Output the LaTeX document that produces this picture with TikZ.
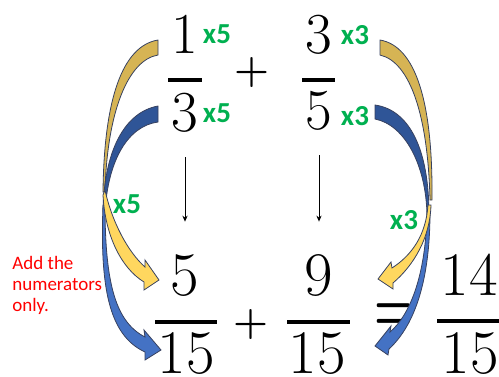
\documentclass[tikz,border=0pt]{standalone}
\usepackage{fontspec}
\usetikzlibrary{arrows.meta}
\newfontfamily\calibri{Carlito}
\definecolor{factorgreen}{RGB}{0,176,80}
\definecolor{notered}{RGB}{255,0,0}
\definecolor{goldback}{RGB}{214,180,84}
\definecolor{goldfront}{RGB}{255,215,95}
\definecolor{blueback}{RGB}{47,85,151}
\definecolor{bluefront}{RGB}{68,114,196}
\definecolor{rim}{RGB}{55,65,95}

\tikzset{
  topnum/.style={font=\fontsize{29}{29}\selectfont, inner sep=0pt, anchor=base},
  botnum/.style={font=\fontsize{31}{31}\selectfont, inner sep=0pt, anchor=base},
  oper/.style={font=\bfseries\fontsize{20}{20}\selectfont, inner sep=0pt},
  factor/.style={font=\calibri\bfseries\fontsize{14.5}{14.5}\selectfont, text=factorgreen, inner sep=0pt},
  note/.style={font=\calibri\fontsize{9.5}{10.5}\selectfont, text=notered, align=left, inner sep=0pt, anchor=north west},
  fracbar/.style={line width=2pt},
  carry/.style={-{Stealth[length=3pt,width=2.6pt]}, line width=0.5pt, shorten <=12.5pt, shorten >=16pt},
  goldtail/.style={fill=goldback, draw=rim, line width=0.4pt},
  goldhead/.style={fill=goldfront, draw=rim, line width=0.4pt},
  bluetail/.style={fill=blueback, draw=rim, line width=0.4pt},
  bluehead/.style={fill=bluefront, draw=rim, line width=0.4pt},
}

\begin{document}
\begin{tikzpicture}[x=0.5pt, y=-0.5pt]
  \useasboundingbox (0,0) rectangle (499,376);
  % First fraction
  \node[topnum] (n1) at (185,53) {1};
  \draw[fracbar] (168,80) -- (202,80);
  \node[topnum] (d1) at (185,131) {3};
  \node[factor] (f1) at (217,34) {x5};
  \node[factor] (f2) at (217,113) {x5};
  % Plus
  \node[oper] (p1) at (252,73) {+};
  % Second fraction
  \node[topnum] (n2) at (319,53) {3};
  \draw[fracbar] (302,80) -- (335,80);
  \node[topnum] (d2) at (319,129) {5};
  \node[factor] (f3) at (355,35) {x3};
  \node[factor] (f4) at (355,116) {x3};
  % Sum row
  \node[botnum] (n3) at (185,295) {5};
  \draw[fracbar, line width=2.4pt] (155,322) -- (217,322);
  \node[botnum] (d3) at (186,373) {15};
  \node[oper] (p2) at (251,325) {+};
  \node[botnum] (n4) at (319,295) {9};
  \draw[fracbar, line width=2.4pt] (287,322) -- (350,322);
  \node[botnum] (d4) at (317,373) {15};
  \node[oper] (eq) at (394,318) {\scalebox{1.1}[1.8]{=}};
  \node[botnum] (n5) at (469,295) {14};
  \draw[fracbar, line width=2.4pt] (437,321) -- (502,321);
  \node[botnum] (d5) at (470,373) {15};
  % Down arrows
  \draw[carry] (d1.south) -- (n3.north);
  \draw[carry] (d2.south) -- (n4.north);
  % Side factors and note
  \node[factor] (f5) at (127,204) {x5};
  \node[factor] (f6) at (404,220) {x3};
  \node[note] (tip) at (12,256) {Add the\\numerators\\only.};
  % Yellow arrow, left
  \draw[goldtail] (158,40) .. controls (122,46) and (104,100) .. (103,192)
    -- (105,192) .. controls (107,112) and (128,60) .. (158,55) -- cycle;
  % Blue arrow, left
  \draw[bluetail] (158,106) .. controls (125,112) and (104,150) .. (103,212)
    -- (105,212) .. controls (108,160) and (128,126) .. (158,122) -- cycle;
  \draw[bluehead] (105,205) .. controls (105,285) and (116,322) .. (145,337)
    -- (144,330) -- (161,350) -- (145,360) -- (145,352)
    .. controls (108,335) and (100,285) .. (103,205) -- cycle;
  \draw[goldhead] (105,190) .. controls (112,222) and (128,252) .. (145,267)
    -- (145,260) -- (159,280) -- (144,290) -- (144,282)
    .. controls (121,268) and (105,235) .. (103,195) -- cycle;
  % Yellow arrow, right
  \draw[goldtail] (380,40) .. controls (415,46) and (433,100) .. (432,200)
    -- (430,200) .. controls (428,115) and (410,62) .. (380,55) -- cycle;
  % Blue arrow, right
  \draw[bluetail] (375,105) .. controls (410,110) and (429,150) .. (429,215)
    -- (427,215) .. controls (426,165) and (405,125) .. (375,119) -- cycle;
  \draw[bluehead] (430,212) .. controls (430,280) and (415,325) .. (389,349)
    -- (388,355) -- (375,346) -- (391,326) -- (390,332)
    .. controls (410,315) and (426,275) .. (427,212) -- cycle;
  \draw[goldhead] (431,205) .. controls (430,238) and (414,265) .. (393,283)
    -- (393,289) -- (378,279) -- (391,262) -- (392,268)
    .. controls (412,255) and (426,235) .. (428,205) -- cycle;
\end{tikzpicture}
\end{document}
